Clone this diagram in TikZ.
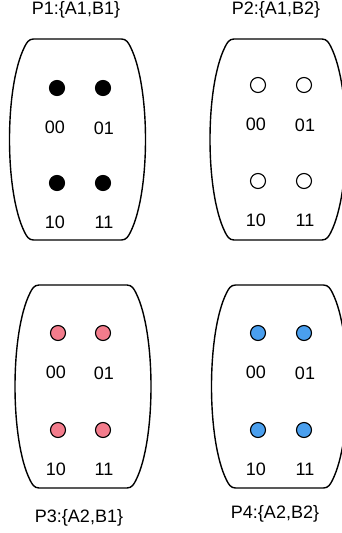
\documentclass[tikz,border=0pt]{standalone}
\usepackage{fontspec}
\setmainfont{Liberation Sans}
\usetikzlibrary{positioning}
\definecolor{dotpink}{HTML}{F37C8C}
\definecolor{dotblue}{HTML}{4A9FEE}
% barrel outline: centre x, top, bottom
\newcommand{\barrel}[3]{%
  \draw[shell] ({#1-44},#2) -- ({#1+44},#2)
    .. controls ({#1+49},#2) and ({#1+51},{#2+4}) .. ({#1+53},{#2+8})
    .. controls ({#1+73},{#2+48}) and ({#1+73},{#3-48}) .. ({#1+53},{#3-8})
    .. controls ({#1+51},{#3-4}) and ({#1+49},#3) .. ({#1+44},#3)
    -- ({#1-44},#3)
    .. controls ({#1-49},#3) and ({#1-51},{#3-4}) .. ({#1-53},{#3-8})
    .. controls ({#1-73},{#3-48}) and ({#1-73},{#2+48}) .. ({#1-53},{#2+8})
    .. controls ({#1-51},{#2+4}) and ({#1-49},#2) .. cycle;}
\begin{document}
\begin{tikzpicture}[x=1pt,y=-1pt,font=\fontsize{18}{21}\selectfont,
  shell/.style={line width=1.4pt,line join=round},
  pt/.style={circle,draw,line width=1.1pt,minimum size=15pt,inner sep=0pt},
  blackdot/.style={pt,fill=black},
  whitedot/.style={pt,fill=white},
  pinkdot/.style={pt,fill=dotpink},
  bluedot/.style={pt,fill=dotblue},
  lbl/.style={inner sep=0pt}]
\useasboundingbox (0,0) rectangle (342,533);
\barrel{77.5}{39}{240}
\barrel{278}{39}{240}
\barrel{83}{285}{488}
\barrel{279.5}{285}{488}
\foreach \n/\xa/\xb/\ya/\yb/\st in {1/57/103/88/183/blackdot,2/258/304/85/181/whitedot,3/58/103/333/430/pinkdot,4/258/304/333/430/bluedot}{
  \node[\st] (d\n00) at (\xa,\ya) {};
  \node[\st] (d\n01) at (\xb,\ya) {};
  \node[\st] (d\n10) at (\xa,\yb) {};
  \node[\st] (d\n11) at (\xb,\yb) {};
  \node[lbl] (l\n00) at (\xa-2,\ya+39) {00};
  \node[lbl] (l\n01) at (\xb+1,\ya+40) {01};
  \node[lbl] (l\n10) at (\xa-2,\yb+39) {10};
  \node[lbl] (l\n11) at (\xb+1,\yb+39) {11};
}
\node[lbl] (t1) at (76,10) {P1:\{A1,B1\}};
\node[lbl] (t2) at (276,10) {P2:\{A1,B2\}};
\node[lbl] (t3) at (79,518) {P3:\{A2,B1\}};
\node[lbl] (t4) at (275,514) {P4:\{A2,B2\}};
\end{tikzpicture}
\end{document}
